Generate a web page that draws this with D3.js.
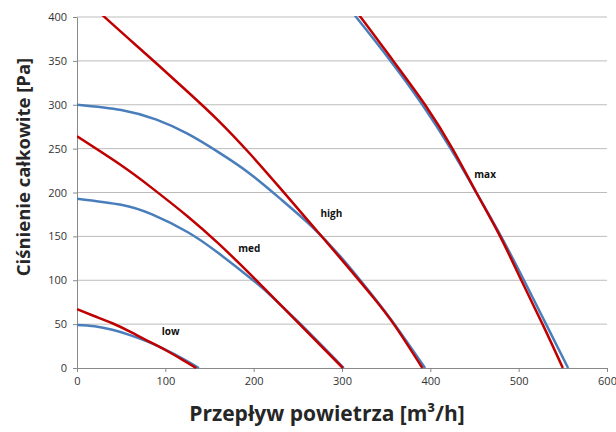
<!DOCTYPE html>
<html>
<head>
<meta charset="utf-8">
<script src="https://cdn.jsdelivr.net/npm/d3@7"></script>
<style>
  body { margin: 0; background: #fff; }
  text { font-family: "Open Sans", sans-serif; }
  .grid line { stroke: #bcbcbc; stroke-width: 1; }
  .axis path, .axis line { stroke: #888; }
  .axis text { fill: #333; font-size: 11px; }
  .AxisLabel { font-weight: bold; fill: #262626; }
  .CurveLabel { font-weight: bold; font-size: 10px; fill: #111; }
</style>
</head>
<body>
<div id="ChartContainer"></div>
<script>
// flow [m3/h] and pressure [Pa]
var lowBlueQ = [0, 20, 40, 60, 80, 100, 120, 138]
var lowBlueP = [49, 47.5, 43.5, 37.5, 30, 21, 10.5, 0]
var lowRedQ = [0, 20, 40, 60, 80, 100, 120, 135]
var lowRedP = [67, 59, 51, 41.5, 31, 20.5, 9, 0]

var medBlueQ = [0, 50, 85, 125, 160, 200, 220, 252, 302]
var medBlueP = [193, 186, 175, 155, 131, 99.5, 82, 51, 0]
var medRedQ = [0, 50, 85, 125, 160, 200, 250, 301]
var medRedP = [264, 231, 205, 173, 142, 103, 52, 0]

var highBlueQ = [0, 50, 90, 125, 160, 195, 230, 265, 300, 335, 360, 394]
var highBlueP = [300, 294, 283, 267, 246, 222, 193, 162, 125, 82, 49, 0]
var highRedQ = [0, 30, 60, 90, 124, 160, 195, 230, 265, 300, 335, 360, 391]
var highRedP = [428, 401, 374, 347, 316, 282, 245, 205, 164, 123, 81, 48, 0]

var maxBlueQ = [292, 316, 355, 391, 423, 452, 480, 506, 531, 556]
var maxBlueP = [430, 400, 350, 300, 250, 200, 150, 100, 50, 0]
var maxRedQ = [297, 321, 358, 394, 425, 452, 479, 503, 527, 550]
var maxRedP = [430, 400, 350, 300, 250, 200, 150, 100, 50, 0]

var xTicks = [0, 100, 200, 300, 400, 500, 600]
var yTicks = [0, 50, 100, 150, 200, 250, 300, 350, 400]

var curveNames = ["low", "med", "high", "max"]
var labelQ = [106, 195, 288, 462]
var labelP = [42, 136, 176, 220]

var margin = { top: 17, right: 9, bottom: 64, left: 77 }
var fullWidth = 616
var fullHeight = 432
var width = fullWidth - margin.left - margin.right
var height = fullHeight - margin.top - margin.bottom

var svg = d3.select("#ChartContainer").append("svg")
  .attr("width", fullWidth)
  .attr("height", fullHeight)

var x = d3.scaleLinear().domain([0, 600]).range([0, width])
var y = d3.scaleLinear().domain([0, 400]).range([height, 0])

var g = svg.append("g")
  .attr("transform", `translate(${margin.left},${margin.top})`)

g.append("clipPath").attr("id", "plotClip")
  .append("rect")
  .attr("x", 0).attr("y", -1)
  .attr("width", width).attr("height", height + 2)

// horizontal gridlines
g.append("g")
  .attr("class", "grid")
  .selectAll("line")
  .data(yTicks.filter(d => d > 0))
  .enter().append("line")
  .attr("x1", 0).attr("x2", width)
  .attr("y1", d => y(d)).attr("y2", d => y(d))

// y-axis
g.append("g")
  .attr("class", "axis axis-y")
  .call(d3.axisLeft(y).tickValues(yTicks).tickSize(4).tickPadding(6).tickSizeOuter(0))

// x-axis
g.append("g")
  .attr("class", "axis axis-x")
  .attr("transform", "translate(0," + height + ")")
  .call(d3.axisBottom(x).tickValues(xTicks).tickSize(4).tickPadding(5).tickSizeOuter(0))

var line = d3.line()
  .x(d => x(d[0]))
  .y(d => y(d[1]))
  .curve(d3.curveNatural)

var series = [
  [lowBlueQ, lowBlueP, "#4a7ebb"], [lowRedQ, lowRedP, "#c00000"],
  [medBlueQ, medBlueP, "#4a7ebb"], [medRedQ, medRedP, "#c00000"],
  [highBlueQ, highBlueP, "#4a7ebb"], [highRedQ, highRedP, "#c00000"],
  [maxBlueQ, maxBlueP, "#4a7ebb"], [maxRedQ, maxRedP, "#c00000"]
]

g.append("g")
  .attr("clip-path", "url(#plotClip)")
  .selectAll(".Curve")
  .data(series)
  .enter().append("path")
  .attr("class", "Curve")
  .attr("fill", "none")
  .attr("stroke", d => d[2])
  .attr("stroke-width", 2.5)
  .attr("d", d => line(d[0].map((q, i) => [q, d[1][i]])))

// curve labels
g.selectAll(".CurveLabel")
  .data(curveNames)
  .enter().append("text")
  .attr("class", "CurveLabel")
  .attr("x", (d, i) => x(labelQ[i]))
  .attr("y", (d, i) => y(labelP[i]))
  .attr("text-anchor", "middle")
  .attr("dy", "0.35em")
  .text(d => d)

// x-axis Label
svg.append("text")
  .attr("class", "AxisLabel")
  .attr("x", 327)
  .attr("y", 421)
  .attr("text-anchor", "middle")
  .style("font-size", "21px")
  .text("Przepływ powietrza [m³/h]")

// y-axis Label
svg.append("text")
  .attr("class", "AxisLabel")
  .attr("transform", "translate(30,167) rotate(-90)")
  .attr("text-anchor", "middle")
  .style("font-size", "18.5px")
  .text("Ciśnienie całkowite [Pa]")
</script>
</body>
</html>
